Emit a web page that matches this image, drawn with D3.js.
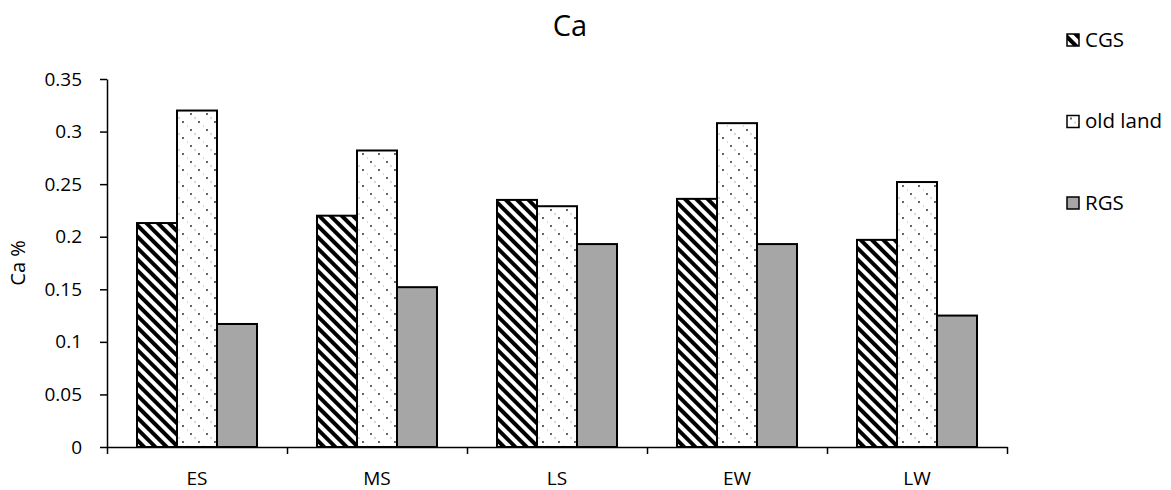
<!DOCTYPE html>
<html>
<head>
<meta charset="utf-8">
<script src="https://cdn.jsdelivr.net/npm/d3@7"></script>
<style>
  body { margin: 0; background: #fff; }
  text { font-family: "Open Sans", sans-serif; fill: #000; }
</style>
</head>
<body>
<script>
// data
var categories = ["ES", "MS", "LS", "EW", "LW"];
var seriesNames = ["CGS", "old land", "RGS"];
var cgs = [0.213, 0.220, 0.235, 0.236, 0.197];
var oldLand = [0.320, 0.282, 0.229, 0.308, 0.252];
var rgs = [0.117, 0.152, 0.193, 0.193, 0.125];
var yTicks = [0, 0.05, 0.1, 0.15, 0.2, 0.25, 0.3, 0.35];

var values = [cgs, oldLand, rgs];
var fills = ["url(#hatch)", "url(#dots)", "#a6a6a6"];

var W = 1171, H = 490;
var margin = { top: 79, right: 164, bottom: 43, left: 107 };
var plotW = W - margin.left - margin.right,
    plotH = H - margin.top - margin.bottom;

var svg = d3.select("body").append("svg").
  attr("width", W).
  attr("height", H);

// patterns
var defs = svg.append("defs");
var hatch = defs.append("pattern").
  attr("id", "hatch").
  attr("patternUnits", "userSpaceOnUse").
  attr("width", 8).attr("height", 8).
  attr("patternTransform", "rotate(45)");
hatch.append("rect").attr("width", 8).attr("height", 8).attr("fill", "#fff");
hatch.append("rect").attr("width", 8).attr("height", 4).attr("fill", "#000");

var dots = defs.append("pattern").
  attr("id", "dots").
  attr("patternUnits", "userSpaceOnUse").
  attr("width", 16).attr("height", 16);
dots.append("rect").attr("width", 16).attr("height", 16).attr("fill", "#fff");
[[4, 3, "#333"], [12, 11, "#333"], [8, 7, "#ccc"], [0, 15, "#ccc"]].forEach(function (d) {
  dots.append("circle").attr("cx", d[0]).attr("cy", d[1]).attr("r", 1).attr("fill", d[2]);
});

var g = svg.append("g").
  attr("transform", "translate(" + margin.left + "," + margin.top + ")");

var x0 = d3.scaleBand().domain(categories).range([0, plotW]).padding(0);
var x1 = d3.scaleBand().domain(seriesNames).
  range([x0.bandwidth() / 6, x0.bandwidth() * 5 / 6]).padding(0);
var y = d3.scaleLinear().domain([0, 0.35]).range([plotH, 0]);
var xb = d3.scaleLinear().domain([0, categories.length]).range([0, plotW]);

// bars
var groups = g.selectAll(".grp").
  data(categories).
  enter().append("g").
  attr("class", "grp").
  attr("transform", function (d) { return "translate(" + x0(d) + ",0)"; });

groups.selectAll("rect").
  data(function (c, i) {
    return seriesNames.map(function (s, j) { return { s: s, j: j, v: values[j][i] }; });
  }).
  enter().append("rect").
  attr("x", function (d) { return x1(d.s); }).
  attr("width", x1.bandwidth()).
  attr("y", function (d) { return y(d.v); }).
  attr("height", function (d) { return plotH - y(d.v); }).
  attr("fill", function (d) { return fills[d.j]; }).
  attr("stroke", "#000").
  attr("stroke-width", 2);

// y axis
var yAxis = g.append("g").
  attr("class", "y-axis").
  call(d3.axisLeft(y).tickValues(yTicks).tickFormat(d3.format("~g")).
    tickSize(7).tickSizeOuter(0).tickPadding(18));
yAxis.selectAll("text").style("font-size", "19px");
yAxis.selectAll("line, path").attr("stroke", "#000").attr("stroke-width", 1.5);

// x axis: ticks between categories, labels at centres
var xAxis = g.append("g").
  attr("transform", "translate(0," + plotH + ")").
  call(d3.axisBottom(xb).tickValues(d3.range(categories.length + 1)).
    tickFormat("").tickSize(7).tickSizeOuter(0));
xAxis.selectAll("line, path").attr("stroke", "#000").attr("stroke-width", 1.5);

var xLabels = g.append("g").
  attr("transform", "translate(0," + plotH + ")").
  call(d3.axisBottom(x0).tickSize(0).tickPadding(25));
xLabels.select(".domain").remove();
xLabels.selectAll("text").style("font-size", "19px");

// axis title
svg.append("text").
  attr("transform", "translate(25," + (margin.top + plotH / 2) + ") rotate(-90)").
  attr("text-anchor", "middle").
  style("font-size", "20px").
  text("Ca %");

// chart title
svg.append("text").
  attr("x", 570).
  attr("y", 36).
  attr("text-anchor", "middle").
  style("font-size", "29px").
  text("Ca");

// legend
var legend = svg.selectAll(".legend").
  data(seriesNames).
  enter().append("g").
  attr("class", "legend").
  attr("transform", function (d, i) { return "translate(1067," + (34 + i * 81.5) + ")"; });
legend.append("rect").
  attr("width", 12).attr("height", 12).
  attr("fill", function (d, i) { return fills[i]; }).
  attr("stroke", "#000").attr("stroke-width", 1.5);
legend.append("text").
  attr("x", 18).attr("y", 12.5).
  style("font-size", "20.5px").
  text(function (d) { return d; });
</script>
</body>
</html>
